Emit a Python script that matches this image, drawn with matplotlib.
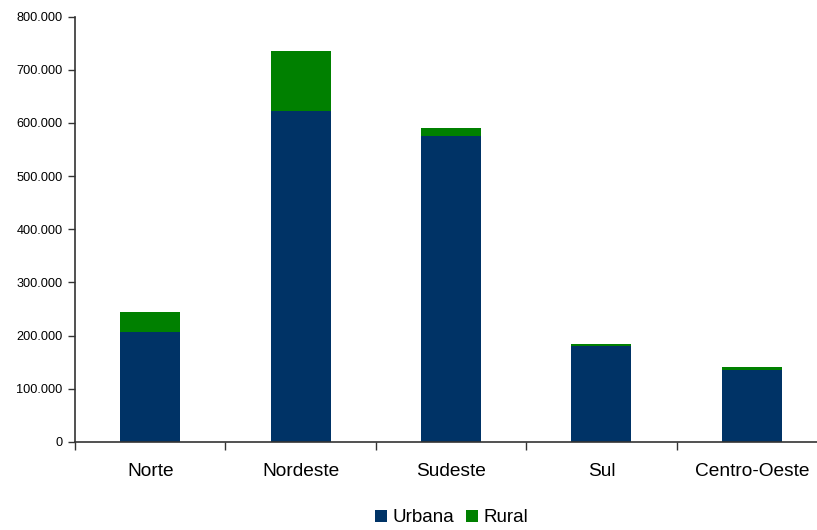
import matplotlib
matplotlib.use('Agg')
from matplotlib import pyplot as plt
import numpy as np

plt.rcParams['font.family'] = ['Liberation Sans', 'DejaVu Sans']

# regiões
regioes = ['Norte', 'Nordeste', 'Sudeste', 'Sul', 'Centro-Oeste']
urbana = np.array([206000, 622000, 575000, 180000, 136000])
rural = np.array([38000, 113000, 15000, 4000, 5000])

cor_urbana = '#003366'
cor_rural = '#008000'

fig = plt.figure(figsize=(8.17, 5.30), dpi=100)
ax = fig.add_axes([75 / 817, 88 / 530, 752 / 817, 425.5 / 530])

x = np.arange(len(regioes))
ax.bar(x, urbana, width=0.4, color=cor_urbana, label='Urbana')
ax.bar(x, rural, width=0.4, bottom=urbana, color=cor_rural, label='Rural')

ax.set_xlim(-0.5, len(regioes) - 0.5)
ax.set_ylim(0, 800000)
ax.set_yticks(np.arange(0, 800001, 100000))
ax.set_yticklabels(['0'] + ['{:,}'.format(v).replace(',', '.') for v in range(100000, 800001, 100000)])

ax.set_xticks(np.arange(-0.5, len(regioes), 1.0))
ax.set_xticklabels([])
ax.set_xticks(x, minor=True)
ax.set_xticklabels(regioes, minor=True, fontsize=13.8)
ax.tick_params(axis='x', which='major', length=6, width=1, color='#333333', direction='out')
ax.tick_params(axis='x', which='minor', length=0, pad=15)
ax.tick_params(axis='y', length=5, width=1, color='#333333', labelsize=9.2, pad=4)

for s in ['top', 'right']:
    ax.spines[s].set_visible(False)
for s in ['left', 'bottom']:
    ax.spines[s].set_color('#333333')
    ax.spines[s].set_linewidth(1.2)

fig.legend(loc='lower center', bbox_to_anchor=(0.553, -0.025), ncol=2, frameon=False,
           fontsize=13.5, handlelength=0.65, handleheight=0.65, handletextpad=0.3,
           columnspacing=0.6)

plt.savefig('out.png', dpi=100)
